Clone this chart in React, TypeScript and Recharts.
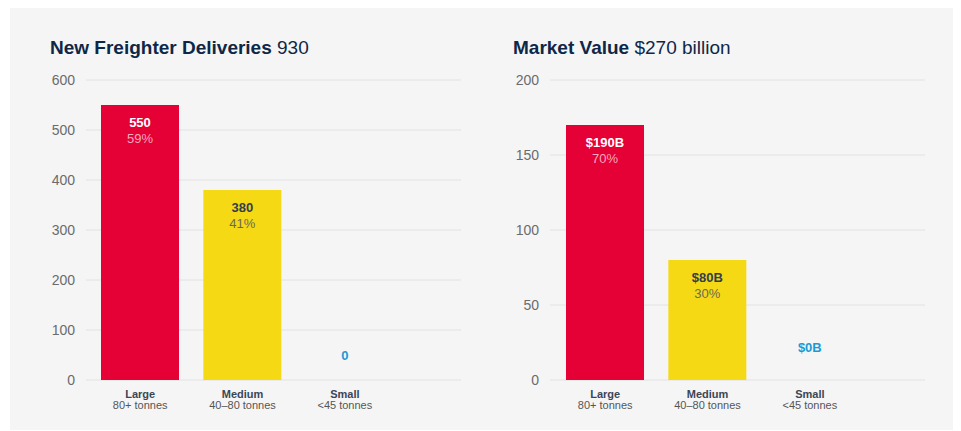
import { BarChart, Bar, XAxis, YAxis, CartesianGrid, LabelList, Cell, ReferenceDot } from 'recharts'

const categories = ['Large', 'Medium', 'Small']
const subLabels = ['80+ tonnes', '40–80 tonnes', '<45 tonnes']
const colors = ['#e50035', '#f5d915', '#1a9ad6']

const deliveries = [550, 380, 0]
const deliveryLabels = ['550', '380', '0']
const deliveryPct = ['59%', '41%', '']
const deliveryTicks = [0, 100, 200, 300, 400, 500, 600]

const marketValue = [170, 80, 0]
const marketLabels = ['$190B', '$80B', '$0B']
const marketPct = ['70%', '30%', '']
const marketTicks = [0, 50, 100, 150, 200]

const font = '"Liberation Sans", Arial, Helvetica, sans-serif'
const navy = '#0f2747'

const CategoryTick = (props: any) => {
  const { x, y, payload } = props
  const i = categories.indexOf(payload.value)
  return (
    <g transform={`translate(${x},${y})`}>
      <text textAnchor="middle" y={10} fontSize={11} fontWeight="bold" fill="#3b4656" fontFamily={font}>
        {payload.value}
      </text>
      <text textAnchor="middle" y={21} fontSize={11} fill="#555" fontFamily={font}>
        {subLabels[i]}
      </text>
    </g>
  )
}

const makeLabel = (labels: string[], pcts: string[]) => (props: any) => {
  const { x, y, width, index } = props
  if (!labels[index] || !pcts[index]) return null
  const cx = x + width / 2
  const light = index === 0
  return (
    <g>
      <text x={cx} y={y + 17} textAnchor="middle" dominantBaseline="central" fontSize={13} fontWeight="bold" fill={light ? '#fff' : '#333d4d'} fontFamily={font}>
        {labels[index]}
      </text>
      <text x={cx} y={y + 33} textAnchor="middle" dominantBaseline="central" fontSize={13} fill={light ? '#f7a9bd' : '#6b6a55'} fontFamily={font}>
        {pcts[index]}
      </text>
    </g>
  )
}

type PanelProps = {
  left: number
  title: string
  sub: string
  titleX: number
  values: number[]
  labels: string[]
  pcts: string[]
  ticks: number[]
  marginLeft: number
  padLeft: number
  padRight: number
  zeroOffset: number
}

const Panel = (p: PanelProps) => {
  const data = categories.map((c, i) => ({ name: c, value: p.values[i] }))
  return (
    <div style={{ position: 'absolute', left: p.left, top: 0, width: 470, height: 422 }}>
      <div style={{ position: 'absolute', left: p.titleX, top: 29, fontFamily: font, fontSize: 19, lineHeight: '22px', color: navy, whiteSpace: 'nowrap' }}>
        <b>{p.title}</b> {p.sub}
      </div>
      <BarChart width={470} height={422} data={data} margin={{ top: 72, right: 470 - 375 - p.marginLeft - 40, bottom: 10, left: p.marginLeft }}>
        <CartesianGrid vertical={false} stroke="#e2e2e2" />
        <XAxis dataKey="name" axisLine={false} tickLine={false} height={40} interval={0} tick={<CategoryTick />} padding={{ left: p.padLeft, right: p.padRight }} />
        <YAxis width={40} domain={[p.ticks[0], p.ticks[p.ticks.length - 1]]} ticks={p.ticks} axisLine={false} tickLine={false} tickMargin={5} tick={{ fontSize: 14, fill: '#6b6b6b', fontFamily: font }} />
        <Bar dataKey="value" barSize={78} isAnimationActive={false}>
          {data.map((_, i) => (
            <Cell key={i} fill={colors[i]} />
          ))}
          <LabelList dataKey="value" content={makeLabel(p.labels, p.pcts)} />
        </Bar>
        <ReferenceDot
          x={categories[2]}
          y={p.values[2]}
          r={0}
          shape={(s: any) => (
            <text x={s.cx} y={s.cy - p.zeroOffset} textAnchor="middle" dominantBaseline="central" fontSize={13} fontWeight="bold" fill={colors[2]} fontFamily={font}>
              {p.labels[2]}
            </text>
          )}
        />
      </BarChart>
    </div>
  )
}

export default function App() {
  return (
    <div style={{ position: 'relative', marginLeft: 2, width: 950, height: 422, background: '#f5f5f5' }}>
      <Panel left={0} title="New Freighter Deliveries" sub="930" titleX={40} values={deliveries} labels={deliveryLabels} pcts={deliveryPct} ticks={deliveryTicks} marginLeft={36} padLeft={3} padRight={65} zeroOffset={25} />
      <Panel left={470} title="Market Value" sub="$270 billion" titleX={33} values={marketValue} labels={marketLabels} pcts={marketPct} ticks={marketTicks} marginLeft={30} padLeft={4} padRight={64} zeroOffset={33} />
    </div>
  )
}
